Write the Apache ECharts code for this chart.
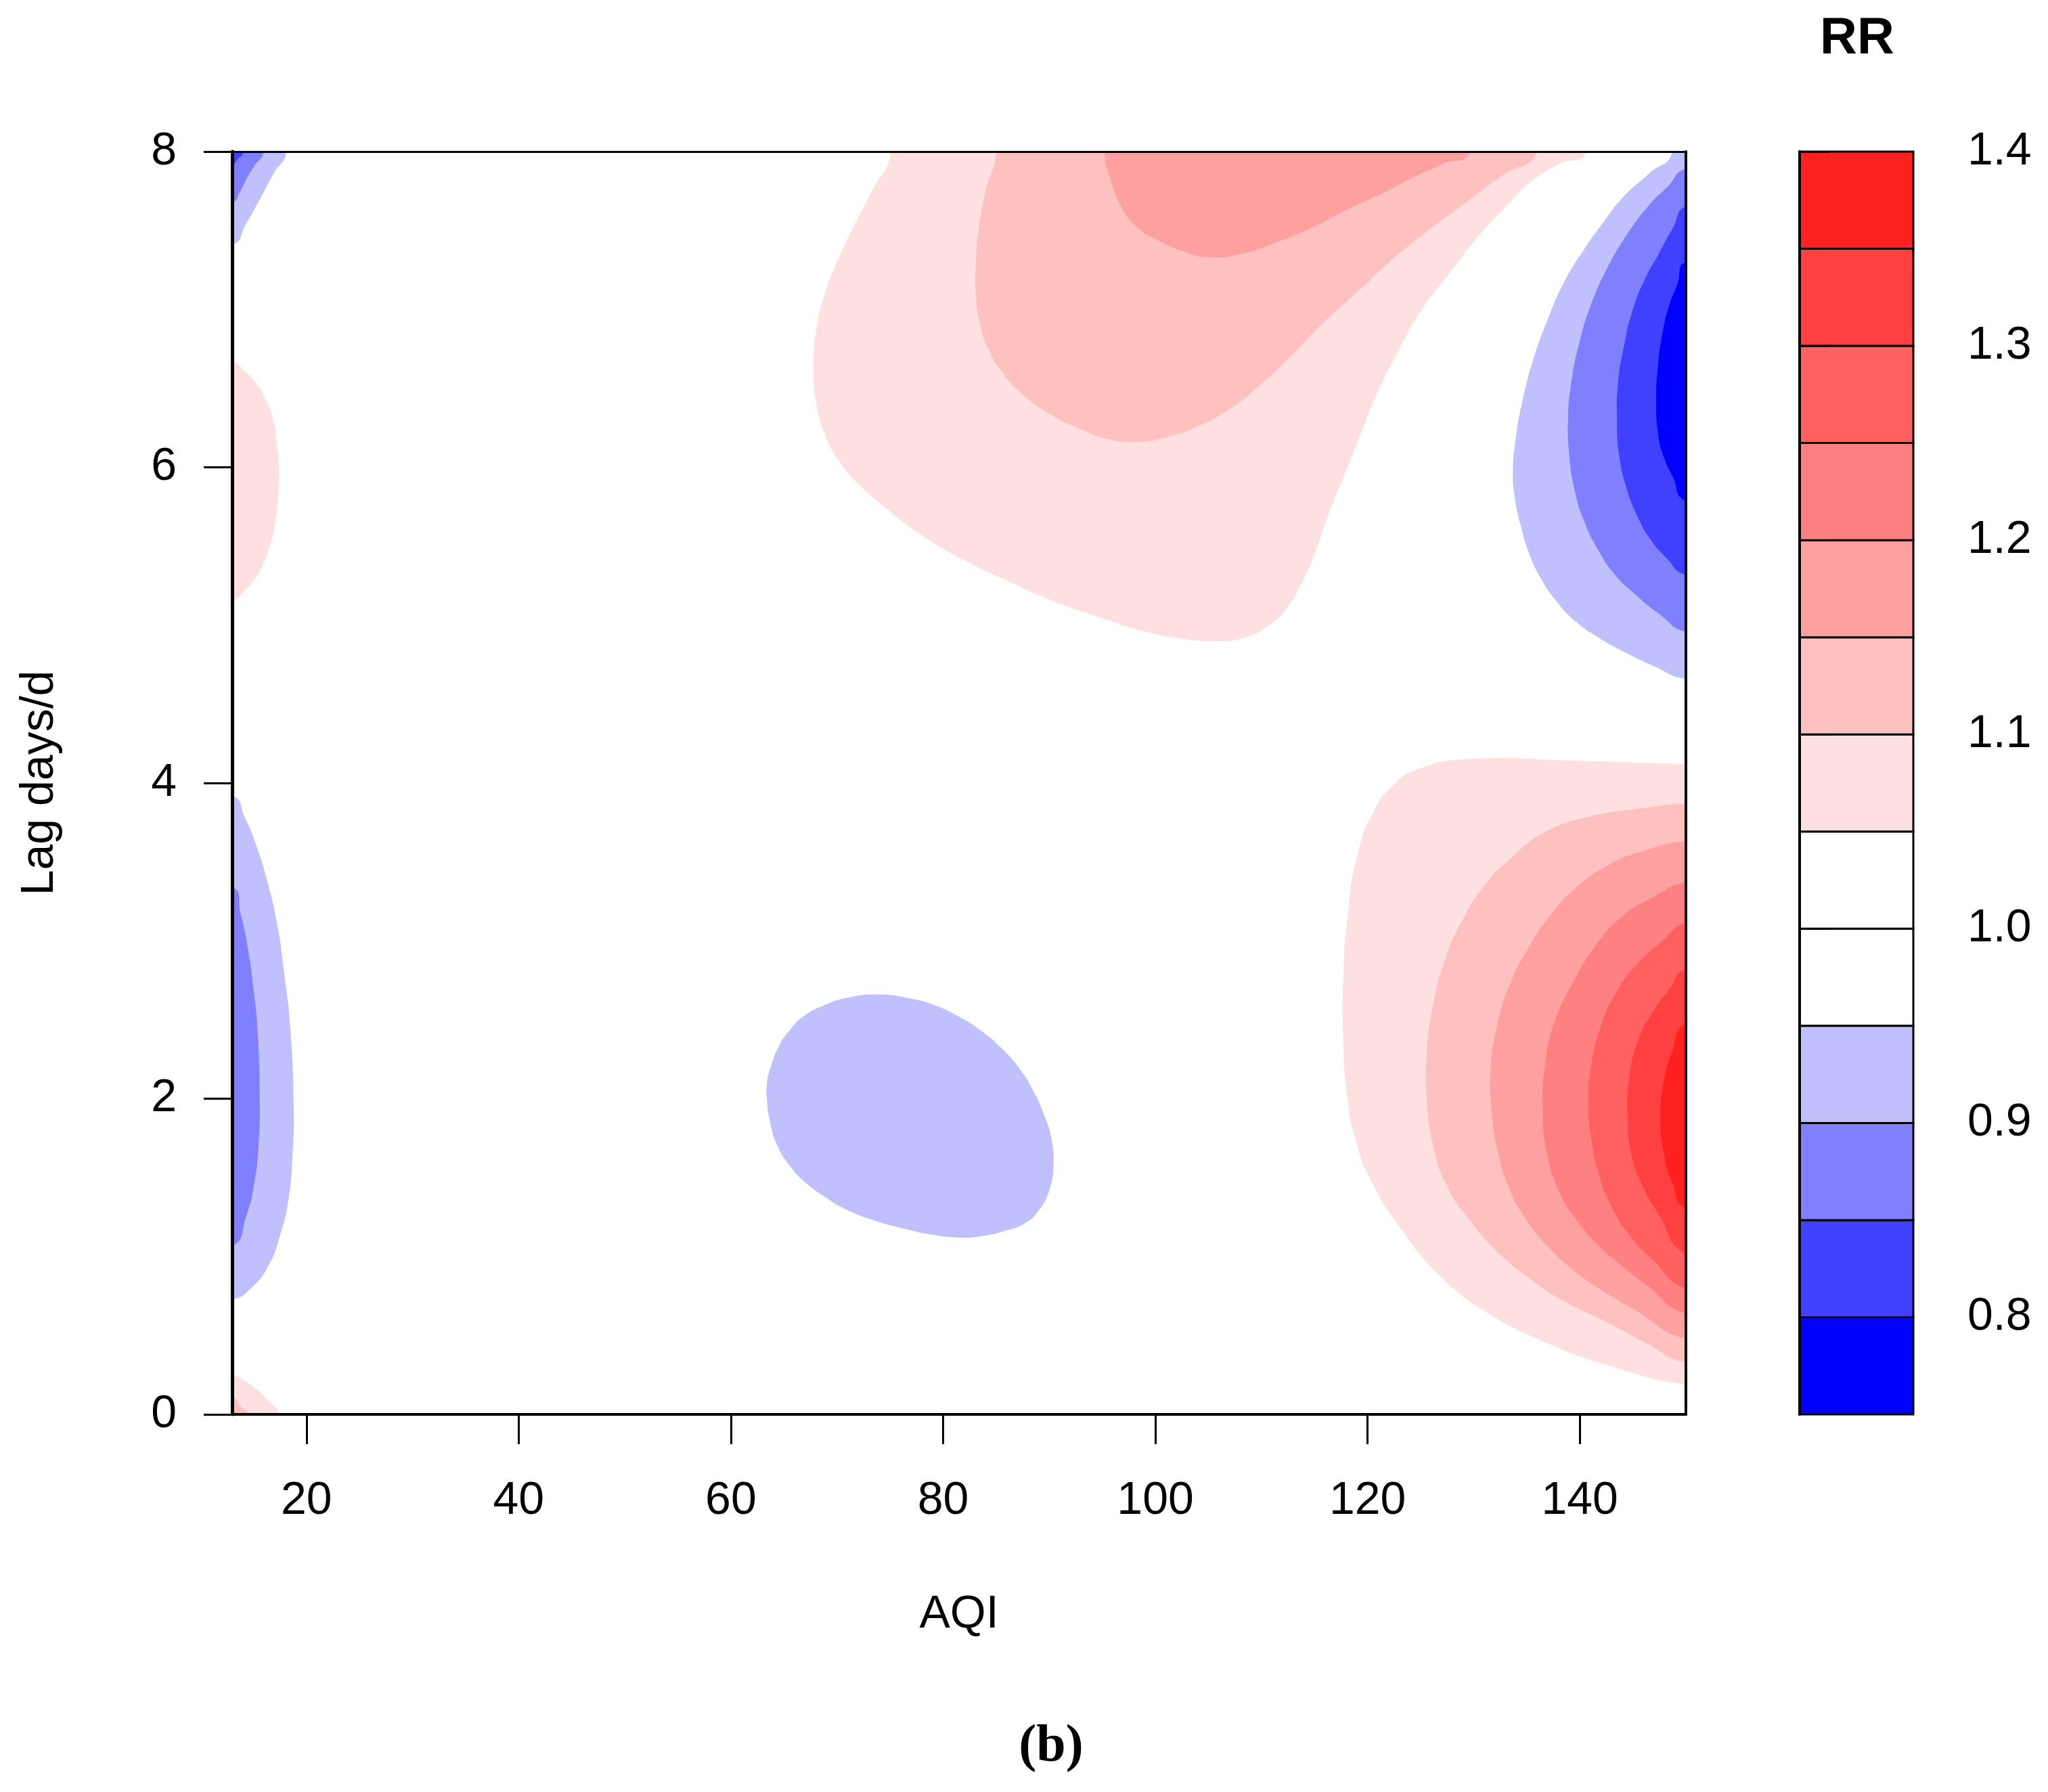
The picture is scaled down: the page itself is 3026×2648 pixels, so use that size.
<!DOCTYPE html>
<html>
<head>
<meta charset="utf-8">
<script src="https://cdn.jsdelivr.net/npm/echarts@6/dist/echarts.min.js"></script>
<style>
  html, body { margin: 0; background: #fff; }
  #chart { width: 3026px; height: 2648px; }
</style>
</head>
<body>
<div id="chart"></div>
<script>
// contour breaks of RR and the fill of each band (lowest band first)
const levels = [0.75, 0.8, 0.85, 0.9, 0.95, 1.0, 1.05, 1.1, 1.15, 1.2, 1.25, 1.3, 1.35, 1.4];
const bandColors = ["#0000FF", "#4040FF", "#8080FF", "#C0C0FF", "#FFFFFF", "#FFFFFF",
  "#FFE0E0", "#FFC0C0", "#FFA0A0", "#FF8080", "#FF6060", "#FF4040", "#FF2020"];

const xTicks = [20, 40, 60, 80, 100, 120, 140];
const yTicks = [0, 2, 4, 6, 8];
const keyTicks = [0.8, 0.9, 1.0, 1.1, 1.2, 1.3, 1.4];

// contour outlines, [AQI, lag]
// upper middle red lobe
const topRed105 = [[75.1, 8], [73.3, 7.75], [71.6, 7.53], [70, 7.3], [68.8, 7.09], [68, 6.85], [67.8, 6.65],
  [68, 6.42], [68.8, 6.22], [70.2, 6.04], [72.1, 5.89], [75, 5.72], [78.2, 5.56], [82, 5.41], [86.4, 5.27],
  [90.5, 5.15], [94.7, 5.05], [99, 4.96], [102.9, 4.91], [106, 4.9], [108.4, 4.92], [110.5, 4.99], [112.3, 5.1],
  [113.8, 5.27], [115, 5.45], [116.3, 5.7], [117.8, 5.95], [119.4, 6.22], [121.1, 6.5], [123, 6.75],
  [124.9, 6.98], [127.6, 7.22], [130.4, 7.46], [133, 7.65], [135.4, 7.81], [138, 7.92], [140.6, 8]];
const topRed110 = [[85, 8], [84, 7.75], [83.4, 7.53], [83.1, 7.3], [83.1, 7.09], [83.5, 6.9], [84.2, 6.76],
  [85.6, 6.6], [87.5, 6.46], [90, 6.34], [93, 6.24], [95.5, 6.18], [98, 6.16], [101, 6.19], [104, 6.26],
  [107, 6.37], [109.5, 6.5], [112.7, 6.7], [115.6, 6.9], [119, 7.11], [122.2, 7.31], [125.7, 7.5],
  [129.3, 7.68], [132.7, 7.85], [135.9, 8]];
const topRed115 = [[95.2, 8], [95.8, 7.82], [96.9, 7.64], [98.3, 7.52], [100.2, 7.44], [102.6, 7.37],
  [105.1, 7.33], [108, 7.35], [111.2, 7.42], [114.8, 7.52], [118.3, 7.64], [121.5, 7.74], [124.4, 7.84],
  [127, 7.92], [129.6, 8]];

// upper right blue lobe
const topBlue095 = [[148.7, 8], [146.5, 7.86], [144.2, 7.72], [142.3, 7.56], [140.4, 7.38], [138.5, 7.17],
  [137, 6.94], [135.6, 6.68], [134.6, 6.42], [134, 6.2], [133.7, 5.97], [133.9, 5.8], [134.4, 5.64],
  [135.2, 5.46], [136.3, 5.3], [137.7, 5.16], [139.5, 5.03], [141.8, 4.92], [144.2, 4.83], [147, 4.74], [150, 4.66]];
const topBlue090 = [[150, 7.89], [148.3, 7.78], [146.4, 7.65], [144.3, 7.46], [142.5, 7.25], [141, 7.02],
  [140, 6.8], [139.2, 6.54], [138.9, 6.31], [139, 6.08], [139.5, 5.86], [140.4, 5.66], [141.7, 5.48],
  [143.3, 5.32], [145.3, 5.19], [147.5, 5.07], [150, 4.96]];
const topBlue085 = [[150, 7.65], [148.8, 7.52], [147.5, 7.36], [146.2, 7.2], [145.1, 7.02], [144.2, 6.78],
  [143.6, 6.53], [143.5, 6.3], [143.7, 6.08], [144.4, 5.87], [145.5, 5.68], [146.7, 5.54], [148.1, 5.43], [150, 5.32]];
const topBlue080 = [[150, 7.3], [149.2, 7.16], [148.4, 7.02], [147.8, 6.85], [147.4, 6.66], [147.2, 6.44],
  [147.4, 6.2], [148, 6.05], [148.7, 5.95], [150, 5.79]];

// lower right red lobe
const lowRed105 = [[150, 4.12], [140, 4.14], [129.1, 4.15], [124.5, 4.08], [122.3, 3.98], [120.5, 3.81],
  [119.1, 3.56], [118.2, 3.21], [117.7, 2.74], [117.7, 2.4], [118, 2.06], [118.9, 1.73], [120.5, 1.46],
  [123, 1.19], [126.8, 0.88], [131.4, 0.64], [137, 0.45], [142.7, 0.31], [150, 0.19]];
const lowRed110 = [[150, 3.87], [146, 3.84], [140.5, 3.78], [136.5, 3.68], [133.6, 3.53], [131, 3.35],
  [129.1, 3.15], [127.4, 2.9], [126.2, 2.6], [125.6, 2.3], [125.6, 1.98], [126.2, 1.7], [127.4, 1.46],
  [129.5, 1.24], [132.4, 1.02], [135.9, 0.83], [139, 0.7], [142.7, 0.58], [146, 0.46], [150, 0.33]];
const lowRed115 = [[150, 3.63], [146, 3.57], [142.7, 3.48], [139.7, 3.34], [137.2, 3.16], [135.1, 2.95],
  [133.4, 2.72], [132.2, 2.46], [131.6, 2.19], [131.7, 1.92], [132.3, 1.66], [133.3, 1.44], [134.8, 1.25],
  [136.9, 1.07], [139.3, 0.92], [142, 0.79], [145, 0.67], [150, 0.48]];
const lowRed120 = [[150, 3.37], [147, 3.28], [143.9, 3.15], [141.4, 2.96], [139.4, 2.74], [137.7, 2.5],
  [136.8, 2.25], [136.5, 1.95], [136.9, 1.66], [138, 1.42], [139.7, 1.23], [141.6, 1.08], [143.8, 0.95],
  [146.1, 0.83], [150, 0.64]];
const lowRed125 = [[150, 3.11], [147.8, 3], [145.5, 2.86], [143.5, 2.68], [142, 2.46], [141.1, 2.22],
  [140.8, 1.98], [141.1, 1.74], [141.8, 1.52], [142.9, 1.33], [144.4, 1.16], [147, 0.97], [150, 0.8]];
const lowRed130 = [[150, 2.82], [148.4, 2.69], [146.8, 2.54], [145.5, 2.37], [144.7, 2.15], [144.5, 1.9],
  [144.8, 1.67], [145.7, 1.48], [147.5, 1.26], [150, 1.02]];
const lowRed135 = [[150, 2.47], [148.7, 2.3], [147.9, 2.1], [147.6, 1.9], [147.9, 1.66], [148.7, 1.47], [150, 1.31]];

// blue island in the middle
const midBlue095 = [[73.8, 2.66], [71, 2.64], [68.7, 2.59], [66.8, 2.52], [65.5, 2.43], [64.5, 2.33],
  [63.8, 2.21], [63.4, 2.1], [63.4, 1.99], [63.7, 1.85], [64.4, 1.7], [65.5, 1.58], [67, 1.47], [68.8, 1.38],
  [70.8, 1.3], [73.4, 1.23], [76.1, 1.18], [78.8, 1.14], [81.4, 1.12], [83.7, 1.13], [85.7, 1.16],
  [87.7, 1.21], [89.1, 1.3], [90, 1.42], [90.4, 1.57], [90.2, 1.75], [89.5, 1.9], [88.5, 2.05], [87.2, 2.19],
  [85.5, 2.32], [83.6, 2.43], [81.5, 2.52], [79.3, 2.59], [76.5, 2.64]];

// slivers along the left edge
const leftTopBlue095 = [[18.1, 8], [16.9, 7.86], [15.7, 7.71], [14.3, 7.54], [13, 7.41]];
const leftTopBlue090 = [[15.95, 8], [15.1, 7.91], [14.46, 7.84], [13.7, 7.74], [13, 7.68]];
const leftTopBlue085 = [[14.04, 8], [13.5, 7.95], [13, 7.92]];
const leftPink105 = [[13, 6.67], [14, 6.62], [15.3, 6.53], [16.2, 6.42], [16.8, 6.32], [17.2, 6.16], [17.4, 6],
  [17.3, 5.8], [17, 5.63], [16.3, 5.45], [15.3, 5.31], [14.2, 5.22], [13, 5.16]];
const leftBlue095 = [[13, 3.92], [14.2, 3.78], [15.3, 3.6], [16.3, 3.38], [17.2, 3.12], [17.9, 2.8],
  [18.5, 2.43], [18.8, 1.95], [18.7, 1.65], [18.3, 1.36], [17.5, 1.13], [16.4, 0.94], [14.8, 0.8], [13, 0.73]];
const leftBlue090 = [[13, 3.34], [13.8, 3.17], [14.46, 2.96], [15, 2.7], [15.4, 2.43], [15.6, 2], [15.5, 1.72],
  [15.1, 1.47], [14.3, 1.25], [13, 1.07]];
const cornerPink105 = [[13, 0.25], [14.2, 0.21], [15.3, 0.16], [16.5, 0.08], [17.4, 0]];
const cornerPink110 = [[13, 0.11], [13.8, 0.05], [14.5, 0]];

// [outline, lower break of the band it is filled with], drawn in this order
const regions = [
  [topRed105, 1.05], [topRed110, 1.1], [topRed115, 1.15],
  [topBlue095, 0.9], [topBlue090, 0.85], [topBlue085, 0.8], [topBlue080, 0.75],
  [lowRed105, 1.05], [lowRed110, 1.1], [lowRed115, 1.15], [lowRed120, 1.2],
  [lowRed125, 1.25], [lowRed130, 1.3], [lowRed135, 1.35],
  [midBlue095, 0.9],
  [leftTopBlue095, 0.9], [leftTopBlue090, 0.85], [leftTopBlue085, 0.8],
  [leftPink105, 1.05], [leftBlue095, 0.9], [leftBlue090, 0.85],
  [cornerPink105, 1.05], [cornerPink110, 1.1],
];

const X0 = 13, X1 = 150, Y0 = 0, Y1 = 8;
const FONT = "'Liberation Sans', Arial, sans-serif";

const bandColor = (lo) => bandColors[Math.round((lo - levels[0]) / 0.05)];

// push an end point lying on the plot border out of the plot, so the clip gives a straight edge
const outward = ([x, y]) => {
  if (x <= X0) return { p: [X0 - 6, y], side: "x" };
  if (x >= X1) return { p: [X1 + 6, y], side: "x" };
  if (y <= Y0) return { p: [x, Y0 - 0.6], side: "y" };
  if (y >= Y1) return { p: [x, Y1 + 0.6], side: "y" };
  return null;
};

const closeShape = (pts) => {
  const a = outward(pts[pts.length - 1]);
  const b = outward(pts[0]);
  if (!a || !b) return pts;
  const out = pts.concat([a.p]);
  if (a.side !== b.side) {
    out.push(a.side === "x" ? [a.p[0], b.p[1]] : [b.p[0], a.p[1]]);
  }
  out.push(b.p);
  return out;
};

const chart = echarts.init(document.getElementById("chart"), null, { renderer: "canvas" });

const contourSeries = regions.map(([pts, lo]) => ({
  type: "custom",
  xAxisIndex: 0,
  yAxisIndex: 0,
  silent: true,
  data: pts,
  encode: { x: 0, y: 1 },
  renderItem: (params, api) => {
    if (params.dataIndex !== 0) return null;
    const cs = params.coordSys;
    return {
      type: "polygon",
      shape: { points: closeShape(pts).map((p) => api.coord(p)), smooth: 0.5 },
      style: { fill: bandColor(lo), stroke: null },
      clipPath: { type: "rect", shape: { x: cs.x, y: cs.y, width: cs.width, height: cs.height } },
    };
  },
}));

// colour key bands
const keyBands = levels.slice(0, -1).map((lo, i) => [lo, levels[i + 1]]);

const keySeries = {
  type: "custom",
  xAxisIndex: 2,
  yAxisIndex: 2,
  silent: true,
  data: keyBands,
  encode: { y: [0, 1] },
  renderItem: (params, api) => {
    const lo = api.value(0);
    const hi = api.value(1);
    const p0 = api.coord([0, hi]);
    const p1 = api.coord([1, lo]);
    return {
      type: "rect",
      shape: { x: p0[0], y: p0[1], width: p1[0] - p0[0], height: p1[1] - p0[1] },
      style: { fill: bandColor(lo), stroke: "#000", lineWidth: 3 },
    };
  },
};

const tickLabel = { color: "#000", fontSize: 68, fontFamily: FONT };

chart.setOption({
  animation: false,
  backgroundColor: "#fff",
  grid: [
    { left: 343, right: 535, top: 224, bottom: 558 },
    { left: 2659, width: 168, top: 224, bottom: 558 },
  ],
  xAxis: [
    {
      type: "value", gridIndex: 0, min: X0, max: X1, position: "bottom", z: 10,
      name: "AQI", nameLocation: "middle", nameGap: 262,
      nameTextStyle: { color: "#000", fontSize: 68, fontFamily: FONT },
      axisLine: { show: true, onZero: false, lineStyle: { color: "#000", width: 4 } },
      axisTick: { show: true, length: 44, customValues: xTicks, lineStyle: { color: "#000", width: 3 } },
      axisLabel: { ...tickLabel, margin: 94, customValues: xTicks },
      splitLine: { show: false },
    },
    {
      type: "value", gridIndex: 0, min: X0, max: X1, position: "top", z: 10,
      axisLine: { show: true, onZero: false, lineStyle: { color: "#000", width: 3 } },
      axisTick: { show: false }, axisLabel: { show: false }, splitLine: { show: false },
    },
    { type: "value", gridIndex: 1, min: 0, max: 1, show: false },
  ],
  yAxis: [
    {
      type: "value", gridIndex: 0, min: Y0, max: Y1, interval: 2, position: "left", z: 10,
      name: "Lag days/d", nameLocation: "middle", nameGap: 250, nameRotate: 90,
      nameTextStyle: { color: "#000", fontSize: 68, fontFamily: FONT },
      axisLine: { show: true, onZero: false, lineStyle: { color: "#000", width: 5 } },
      axisTick: { show: true, length: 42, customValues: yTicks, lineStyle: { color: "#000", width: 3 } },
      axisLabel: { ...tickLabel, margin: 82, customValues: yTicks },
      splitLine: { show: false },
    },
    {
      type: "value", gridIndex: 0, min: Y0, max: Y1, position: "right", z: 10,
      axisLine: { show: true, onZero: false, lineStyle: { color: "#000", width: 4 } },
      axisTick: { show: false }, axisLabel: { show: false }, splitLine: { show: false },
    },
    {
      type: "value", gridIndex: 1, min: levels[0], max: levels[levels.length - 1], position: "right", z: 10,
      axisLine: { show: true, lineStyle: { color: "#000", width: 4 } },
      axisTick: { show: true, length: 44, customValues: keyTicks, lineStyle: { color: "#000", width: 3 } },
      axisLabel: { ...tickLabel, margin: 80, customValues: keyTicks, formatter: (v) => v.toFixed(1) },
      splitLine: { show: false },
    },
  ],
  graphic: [
    {
      type: "text", x: 2744, y: 58,
      style: { text: "RR", font: `bold 76px ${FONT}`, fill: "#000", textAlign: "center", textVerticalAlign: "middle" },
    },
    {
      type: "text", x: 1553, y: 2582,
      style: { text: "(b)", font: "bold 78px 'Liberation Serif', 'Times New Roman', serif", fill: "#000",
        textAlign: "center", textVerticalAlign: "middle" },
    },
  ],
  series: [...contourSeries, keySeries],
});
</script>
</body>
</html>
